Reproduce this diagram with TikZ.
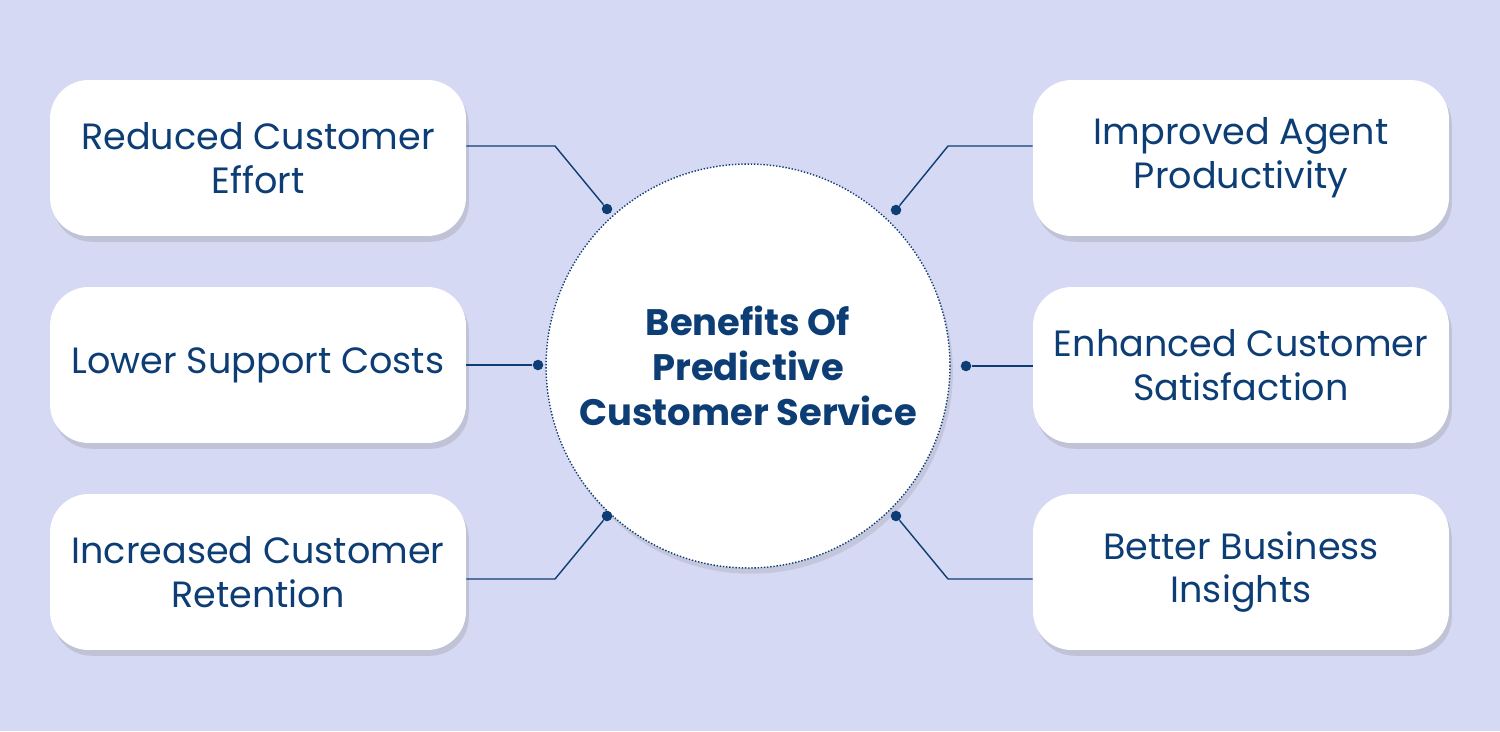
\documentclass[tikz,border=0pt]{standalone}
\usepackage{fontspec}
\setmainfont{Poppins}
\usetikzlibrary{shadows}
\definecolor{bgblue}{HTML}{D6D9F3}
\definecolor{inkblue}{HTML}{0D3D75}
\begin{document}
\begin{tikzpicture}[x=0.02cm,y=-0.02cm]
	\tikzstyle{benefit} = [draw=none,fill=white,rounded corners=22,minimum width=8.32cm,minimum height=3.12cm,align=center,text=inkblue,font=\fontsize{20.8}{25}\selectfont,drop shadow={shadow xshift=0.3ex,shadow yshift=-0.6ex,opacity=0.25}]
	\tikzstyle{hub} = [circle,fill=white,draw=inkblue,densely dotted,thick,minimum size=8.08cm,align=center,text=inkblue,font=\fontsize{21}{25.5}\selectfont\bfseries,drop shadow={shadow xshift=0.3ex,shadow yshift=-0.6ex,opacity=0.2}]
	\tikzstyle{link} = [draw=inkblue,line width=0.8pt]
	\tikzstyle{dot} = [circle,fill=inkblue,inner sep=0,minimum size=6pt]
	\fill [bgblue] (0,0) rectangle (1500,731);
	% boxes
	\node [benefit] (b1) at (258,158) {Reduced Customer\\Effort};
	\node [benefit] (b2) at (258,365) {Lower Support Costs};
	\node [benefit] (b3) at (258,572) {Increased Customer\\Retention};
	\node [benefit] (b4) at (1241,158) {Improved Agent\\Productivity};
	\node [benefit] (b5) at (1241,365) {Enhanced Customer\\Satisfaction};
	\node [benefit] (b6) at (1241,572) {Better Business\\Insights};
	\node [hub] (hub) at (748,366) {Benefits Of\\Predictive\\Customer Service};
	% dots on the circle
	\node [dot] (d1) at (607,209) {};
	\node [dot] (d2) at (538,365) {};
	\node [dot] (d3) at (607,516) {};
	\node [dot] (d4) at (896,210) {};
	\node [dot] (d5) at (966,366) {};
	\node [dot] (d6) at (896,516) {};
	% connectors
	\draw [link] (b1.east |- 0,146) -- (555,146) -- (d1);
	\draw [link] (b2.east) -- (d2);
	\draw [link] (b3.east |- 0,579) -- (555,579) -- (d3);
	\draw [link] (b4.west |- 0,146) -- (948,146) -- (d4);
	\draw [link] (b5.west |- 0,366) -- (d5);
	\draw [link] (b6.west |- 0,579) -- (948,579) -- (d6);
\end{tikzpicture}
\end{document}
